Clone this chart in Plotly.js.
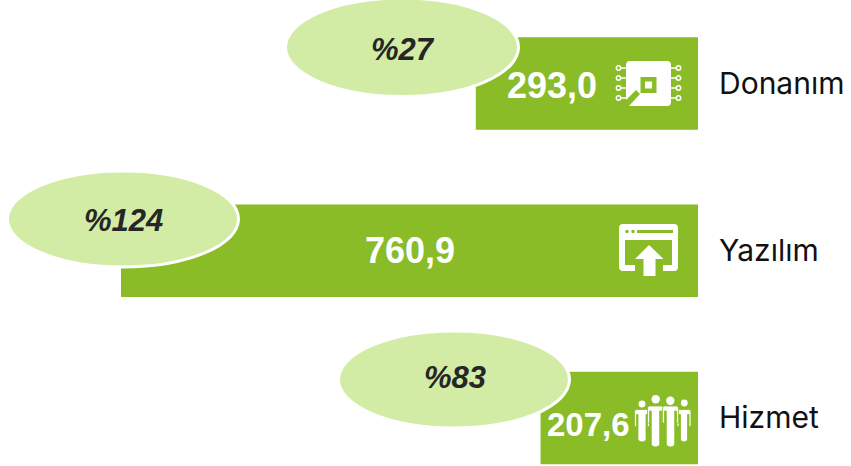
<!DOCTYPE html>
<html><head><meta charset="utf-8">
<script src="https://cdn.plot.ly/plotly-3.0.1.min.js"></script>
<style>html,body{margin:0;padding:0;background:#fff}#c{width:851px;height:466px}</style>
</head><body><div id="c"></div>
<script>
const categories = ['Donanım', 'Yazılım', 'Hizmet'];
const values = [293.0, 760.9, 207.6];
const percents = [27, 124, 83];

const W = 851, H = 466;
const GREEN = '#89BC26', LIGHT = '#D3ECA5', WHITE = '#FFFFFF';
const ellipseBoxes = [[285.5, -2, 518.5, 96.5], [7.5, 171, 238.5, 267], [338.5, 331, 569.5, 428]];
const valueCenters = [[551.5, 85], [409.5, 250.5], [588, 424]];
const valueSizes = [36, 36, 33];
const pctCenters = [[402.5, 49], [123.5, 221], [454.5, 377]];

const xp = v => v / W, yp = v => 1 - v / H;
const pathShape = (d, fill, line) => ({
  type: 'path', xref: 'paper', yref: 'paper', xsizemode: 'pixel', ysizemode: 'pixel',
  xanchor: 0, yanchor: 1,
  path: d.replace(/(-?[\d.]+)[ ,](-?[\d.]+)/g, (m, a, b) => a + ',' + (-b)),
  fillcolor: fill || 'rgba(0,0,0,0)', line: line || {width: 0}, layer: 'above'
});
const dot = (cx, cy, r, fill, line) => ({
  type: 'circle', xref: 'paper', yref: 'paper', xsizemode: 'pixel', ysizemode: 'pixel',
  xanchor: 0, yanchor: 1, x0: cx - r, x1: cx + r, y0: -cy - r, y1: -cy + r,
  fillcolor: fill, line: line || {width: 0}, layer: 'above'
});

const shapes = [];
ellipseBoxes.forEach(b => shapes.push({
  type: 'circle', xref: 'paper', yref: 'paper', x0: xp(b[0]), x1: xp(b[2]), y0: yp(b[3]), y1: yp(b[1]),
  fillcolor: LIGHT, line: {color: WHITE, width: 3}, layer: 'above'
}));

/* chip icon */
shapes.push(pathShape('M630 61 L667 61 Q671 61 671 65 L671 102 Q671 106 667 106 L629 106 L640 94 L636 90 L626 100 L626 65 Q626 61 630 61 Z', WHITE));
shapes.push(pathShape('M640.5 77 L656.5 77 L656.5 93 L640.5 93 Z M645 81.5 L645 88.5 L652 88.5 L652 81.5 Z', GREEN));
[68, 78, 88, 98].forEach(y => {
  shapes.push(pathShape(`M620 ${y} L627 ${y}`, null, {color: WHITE, width: 1.5}));
  shapes.push(pathShape(`M670 ${y} L677 ${y}`, null, {color: WHITE, width: 1.5}));
  shapes.push(dot(618.5, y, 2.2, GREEN, {color: WHITE, width: 1.5}));
  shapes.push(dot(678.5, y, 2.2, GREEN, {color: WHITE, width: 1.5}));
});

/* browser icon */
shapes.push(pathShape('M623 224 L674 224 Q678 224 678 228 L678 267 Q678 271 674 271 L663 271 L663 265 L672 265 L672 240 L625 240 L625 265 L635 265 L635 271 L623 271 Q619 271 619 267 L619 228 Q619 224 623 224 Z', WHITE));
shapes.push(pathShape('M637 230 L673 230 L673 233 L637 233 Z', GREEN));
shapes.push(dot(627, 231.5, 1.8, GREEN));
shapes.push(dot(633, 231.5, 1.8, GREEN));
shapes.push(pathShape('M649 245 L663.5 259 L655.5 259 L655.5 276 L643.5 276 L643.5 259 L635 259 Z', WHITE));

/* people icon */
const person = (cx, top, bottom, half, leg) => `M${cx - half + 2} ${top} L${cx + half - 2} ${top} Q${cx + half} ${top} ${cx + half} ${top + 2} L${cx + half} ${top + 17} L${cx + half - 2} ${top + 17} L${cx + half - 2} ${top + 5} L${cx + leg} ${top + 5} L${cx + leg} ${bottom - 2} Q${cx} ${bottom + 2} ${cx - leg} ${bottom - 2} L${cx - leg} ${top + 5} L${cx - half + 2} ${top + 5} L${cx - half + 2} ${top + 17} L${cx - half} ${top + 17} L${cx - half} ${top + 2} Q${cx - half} ${top} ${cx - half + 2} ${top} Z`;
[[642, 409.5, 442, 7.5, 4], [684, 409.5, 442, 7, 3.5], [655.5, 406, 447, 8, 4.2], [670.5, 406, 447, 8, 4.2]].forEach(p => {
  shapes.push(pathShape(person(p[0], p[1], p[2], p[3], p[4]), WHITE, {color: GREEN, width: 0.8}));
});
[[642, 404, 3.4], [655.7, 399.3, 4.2], [670.3, 400.7, 4.2], [684.3, 403, 3.4]].forEach(h => shapes.push(dot(h[0], h[1], h[2], WHITE)));

const annotations = [];
values.forEach((v, i) => annotations.push({
  xref: 'paper', yref: 'paper', x: xp(valueCenters[i][0]), y: yp(valueCenters[i][1]),
  text: '<b>' + v.toFixed(1).replace('.', ',') + '</b>', showarrow: false, xanchor: 'center', yanchor: 'middle',
  font: {family: '"Liberation Sans", Arial, sans-serif', size: valueSizes[i], color: WHITE}
}));
percents.forEach((p, i) => annotations.push({
  xref: 'paper', yref: 'paper', x: xp(pctCenters[i][0]), y: yp(pctCenters[i][1]),
  text: '<b><i>%' + p + '</i></b>', showarrow: false, xanchor: 'center', yanchor: 'middle',
  font: {family: '"Liberation Sans", Arial, sans-serif', size: 31, color: '#262626'}
}));

Plotly.newPlot('c', [{
  type: 'bar', orientation: 'h', y: categories, x: values, width: 0.553,
  marker: {color: GREEN, line: {width: 0}}, hoverinfo: 'none'
}], {
  width: W, height: H, margin: {l: 0, r: 0, t: 0, b: 0, pad: 0},
  paper_bgcolor: WHITE, plot_bgcolor: WHITE, showlegend: false,
  xaxis: {range: [920.5, -201.8], visible: false, fixedrange: true},
  yaxis: {
    type: 'category', range: [2.287, -0.499], side: 'right', anchor: 'free', position: 718 / W,
    showline: false, showgrid: false, zeroline: false, ticks: '', ticklen: 0, fixedrange: true,
    tickfont: {family: 'Inter, "Noto Sans", sans-serif', size: 30, color: '#111111'}
  },
  shapes, annotations
}, {displayModeBar: false, staticPlot: true});
</script></body></html>
